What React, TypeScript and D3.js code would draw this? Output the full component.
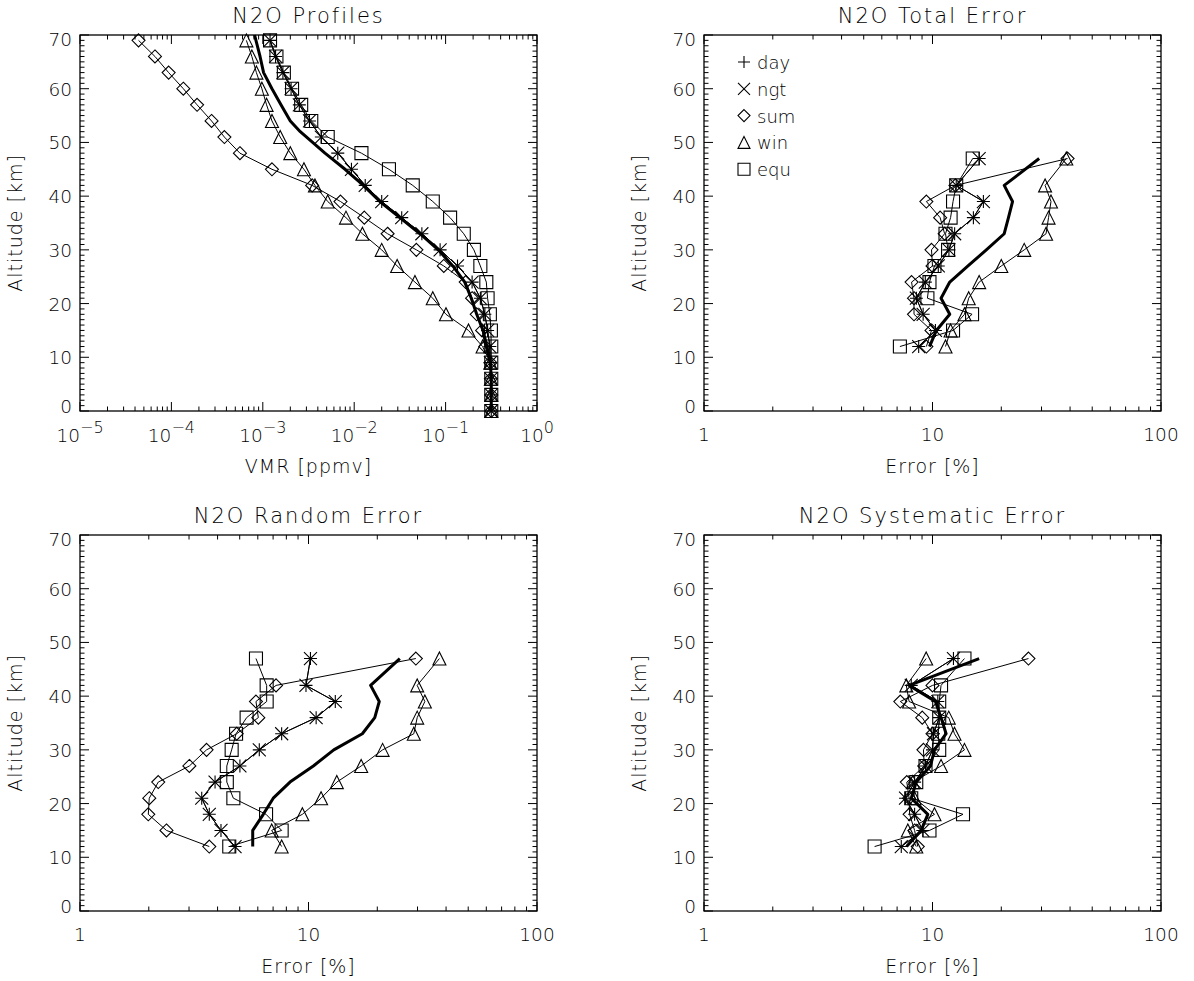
import React from 'react'
import * as d3 from 'd3'

// ---- N2O profiles (VMR in ppmv) on the retrieval levels
const profAlt = [69, 66, 63, 60, 57, 54, 51, 48, 45, 42, 39, 36, 33, 30, 27, 24, 21, 18, 15, 12, 9, 6, 3, 0]
const profDay = [1.2e-3, 1.38e-3, 1.66e-3, 2.04e-3, 2.51e-3, 3.24e-3, 4.37e-3, 6.61e-3, 9.33e-3, 1.32e-2, 2.0e-2, 3.31e-2, 5.5e-2, 8.71e-2, 0.135, 0.195, 0.24, 0.269, 0.288, 0.305, 0.309, 0.313, 0.316, 0.316]
const profNgt = [1.2e-3, 1.38e-3, 1.66e-3, 2.04e-3, 2.51e-3, 3.24e-3, 4.37e-3, 6.61e-3, 9.33e-3, 1.32e-2, 2.0e-2, 3.31e-2, 5.5e-2, 8.71e-2, 0.135, 0.195, 0.24, 0.269, 0.288, 0.305, 0.309, 0.313, 0.316, 0.316]
const profSum = [4.37e-5, 6.61e-5, 9.33e-5, 1.35e-4, 1.91e-4, 2.75e-4, 3.8e-4, 5.62e-4, 1.26e-3, 3.47e-3, 7.08e-3, 1.29e-2, 2.32e-2, 4.79e-2, 9.55e-2, 0.166, 0.195, 0.219, 0.251, 0.272, 0.309, 0.313, 0.316, 0.316]
const profWin = [6.61e-4, 7.59e-4, 8.51e-4, 9.77e-4, 1.1e-3, 1.26e-3, 1.55e-3, 2.0e-3, 2.82e-3, 3.72e-3, 5.13e-3, 8.13e-3, 1.23e-2, 2.0e-2, 2.95e-2, 4.62e-2, 7.24e-2, 0.101, 0.178, 0.254, 0.309, 0.313, 0.316, 0.316]
const profEqu = [1.2e-3, 1.41e-3, 1.7e-3, 2.09e-3, 2.63e-3, 3.39e-3, 5.13e-3, 1.2e-2, 2.4e-2, 4.37e-2, 7.24e-2, 0.112, 0.158, 0.204, 0.24, 0.279, 0.288, 0.305, 0.313, 0.316, 0.316, 0.316, 0.316, 0.316]
// thick reference profile
const meanAlt = [70, 66, 63, 60, 57, 54, 52, 48, 45, 42, 39, 36, 33, 30, 27, 24, 21, 18, 15, 12, 9, 6, 3, 0]
const profMean = [8.13e-4, 9.33e-4, 1.02e-3, 1.26e-3, 1.58e-3, 2.0e-3, 2.57e-3, 4.79e-3, 7.94e-3, 1.26e-2, 1.91e-2, 3.16e-2, 5.25e-2, 8.32e-2, 0.12, 0.162, 0.191, 0.219, 0.257, 0.282, 0.309, 0.316, 0.316, 0.316]

// ---- errors [%]
const errAlt = [12, 15, 18, 21, 24, 27, 30, 33, 36, 39, 42, 47]

const totDay = [8.7, 10.3, 9.1, 8.5, 9.3, 10.6, 11.8, 12.5, 15.1, 16.7, 12.7, 16.0]
const totNgt = [8.7, 10.3, 9.1, 8.5, 9.3, 10.6, 11.8, 12.5, 15.1, 16.7, 12.7, 16.0]
const totSum = [9.4, 9.9, 8.3, 8.3, 8.1, 10.0, 9.9, 11.3, 10.8, 9.4, 12.6, 39.0]
const totWin = [11.4, 12.0, 13.8, 14.4, 16.0, 20.0, 25.2, 31.4, 32.2, 33.0, 31.1, 38.5]
const totEqu = [7.2, 12.3, 14.9, 9.5, 9.7, 10.2, 11.7, 11.4, 12.0, 12.3, 12.7, 15.0]
const totMean = [9.7, 10.4, 11.9, 10.9, 11.9, 14.3, 17.2, 20.6, 21.5, 22.4, 20.6, 29.3]

const rndDay = [4.77, 4.14, 3.68, 3.41, 3.9, 5.01, 6.09, 7.63, 10.8, 13.1, 9.75, 10.2]
const rndNgt = [4.77, 4.14, 3.68, 3.41, 3.9, 5.01, 6.09, 7.63, 10.8, 13.1, 9.75, 10.2]
const rndSum = [3.68, 2.39, 1.99, 2.01, 2.2, 3.01, 3.58, 4.85, 6.03, 5.89, 7.21, 29.5]
const rndWin = [7.63, 6.9, 9.4, 11.35, 13.3, 17.0, 21.1, 28.9, 29.9, 32.3, 29.9, 37.4]
const rndEqu = [4.5, 7.63, 6.52, 4.69, 4.39, 4.39, 4.61, 4.82, 5.36, 6.56, 6.56, 5.89]
const rndMean = [5.7, 5.7, 6.34, 7.01, 8.3, 10.5, 12.9, 17.2, 19.5, 20.4, 18.7, 25.1]

const sysDay = [7.3, 9.07, 8.35, 7.62, 8.35, 9.32, 10.0, 10.1, 10.7, 10.55, 8.07, 12.35]
const sysNgt = [7.3, 9.07, 8.35, 7.62, 8.35, 9.32, 10.0, 10.1, 10.7, 10.55, 8.07, 12.35]
const sysSum = [8.62, 8.35, 7.94, 7.9, 7.72, 9.2, 9.13, 10.0, 9.02, 7.23, 10.0, 26.3]
const sysWin = [8.49, 7.8, 10.2, 8.35, 8.2, 10.9, 13.8, 12.48, 11.78, 7.9, 7.68, 9.38]
const sysEqu = [5.58, 9.7, 13.6, 8.07, 8.49, 9.32, 10.7, 10.6, 10.7, 10.7, 10.9, 13.8]
const sysMean = [7.7, 8.92, 9.54, 8.07, 8.49, 9.8, 10.2, 11.47, 10.9, 10.3, 7.9, 16.0]

const altTicks = [0, 10, 20, 30, 40, 50, 60, 70]
const vmrTicks = [1e-5, 1e-4, 1e-3, 1e-2, 1e-1, 1]
const vmrExp = ['−5', '−4', '−3', '−2', '−1', '0']
const errTicks = [1, 10, 100]
const legendNames = ['day', 'ngt', 'sum', 'win', 'equ']
const legendSyms = ['plus', 'cross', 'diamond', 'triangle', 'square']

const W = 457
const H = 376
const FONT = "'DejaVu Sans ExtraLight', 'DejaVu Sans', 'Liberation Sans', sans-serif"

const symPath = (sym, s = 6.5) => {
  switch (sym) {
    case 'plus': return `M${-s},0H${s}M0,${-s}V${s}`
    case 'cross': return `M${-s},${-s}L${s},${s}M${-s},${s}L${s},${-s}`
    case 'diamond': return `M0,${-s}L${s},0L0,${s}L${-s},0Z`
    case 'triangle': return `M${-s},${s}L${s},${s}L0,${-s}Z`
    default: return `M${-s},${-s}H${s}V${s}H${-s}Z`
  }
}

const Panel = ({ left, top, title, xTitle, xDomain, xTicks, expLabels, alt, series, mAlt, mean, legend }) => {
  const x = d3.scaleLog().domain(xDomain).range([0, W])
  const y = d3.scaleLinear().domain([0, 70]).range([H, 0])
  const line = d3.line().x((d) => x(d[0])).y((d) => y(d[1]))

  const e0 = Math.round(Math.log10(xDomain[0]))
  const e1 = Math.round(Math.log10(xDomain[1]))
  const minorX = d3.range(e0, e1).flatMap((e) => d3.range(2, 10).map((m) => m * Math.pow(10, e)))
  const minorY = d3.range(0, 71).filter((v) => v % 10 !== 0)

  return (
    <g transform={`translate(${left},${top})`} fontFamily={FONT} fontWeight={200} fill="#000">
      <text x={W / 2} y={-12} textAnchor="middle" fontSize={21} letterSpacing={2}>{title}</text>

      {/* data */}
      {series.map((s, i) => {
        const pts = alt.map((a, j) => [s.v[j], a])
        return (
          <g key={i}>
            <path d={line(pts)} fill="none" stroke="#000" strokeWidth={1} />
            {pts.map((p, j) => (
              <path key={j} d={symPath(s.sym)} transform={`translate(${x(p[0])},${y(p[1])})`}
                fill="none" stroke="#000" strokeWidth={1.1} />
            ))}
          </g>
        )
      })}
      <path d={line(mAlt.map((a, j) => [mean[j], a]))} fill="none" stroke="#000" strokeWidth={3} strokeLinejoin="round" />

      {/* box + ticks */}
      <rect x={0} y={0} width={W} height={H} fill="none" stroke="#000" strokeWidth={1.3} />
      <g stroke="#000" strokeWidth={1}>
        {xTicks.map((t) => (
          <g key={t}>
            <line x1={x(t)} x2={x(t)} y1={H} y2={H - 9} />
            <line x1={x(t)} x2={x(t)} y1={0} y2={9} />
          </g>
        ))}
        {minorX.map((t) => (
          <g key={t}>
            <line x1={x(t)} x2={x(t)} y1={H} y2={H - 4.5} />
            <line x1={x(t)} x2={x(t)} y1={0} y2={4.5} />
          </g>
        ))}
        {altTicks.map((t) => (
          <g key={t}>
            <line x1={0} x2={9} y1={y(t)} y2={y(t)} />
            <line x1={W} x2={W - 9} y1={y(t)} y2={y(t)} />
          </g>
        ))}
        {minorY.map((t) => (
          <g key={t}>
            <line x1={0} x2={4.5} y1={y(t)} y2={y(t)} />
            <line x1={W} x2={W - 4.5} y1={y(t)} y2={y(t)} />
          </g>
        ))}
      </g>

      {/* tick labels */}
      {altTicks.map((t) => (
        <text key={t} x={-8} y={y(t) + 7 + (t === 0 ? -5 : 0) + (t === 70 ? 4 : 0)} textAnchor="end" fontSize={18.5}>{t}</text>
      ))}
      {xTicks.map((t, i) => (expLabels ? (
        <text key={t} x={x(t)} y={H + 31} textAnchor="middle" fontSize={18.5}>
          10<tspan dy={-9} fontSize={16}>{expLabels[i]}</tspan>
        </text>
      ) : (
        <text key={t} x={x(t)} y={H + 30} textAnchor="middle" fontSize={18.5}>{t}</text>
      )))}

      <text x={W / 2} y={H + 62} textAnchor="middle" fontSize={19} letterSpacing={1}>{xTitle}</text>
      <text transform={`translate(${-58},${H / 2}) rotate(-90)`} textAnchor="middle" fontSize={19} letterSpacing={1}>Altitude [km]</text>

      {legend && legendNames.map((n, i) => (
        <g key={n} transform={`translate(40,${27 + i * 26.8})`}>
          <path d={symPath(legendSyms[i], 6)} fill="none" stroke="#000" strokeWidth={1.1} />
          <text x={13} y={7} fontSize={18}>{n}</text>
        </g>
      ))}
    </g>
  )
}

const mk = (day, ngt, sum, win, equ) => [
  { v: sum, sym: 'diamond' },
  { v: win, sym: 'triangle' },
  { v: equ, sym: 'square' },
  { v: day, sym: 'plus' },
  { v: ngt, sym: 'cross' },
]

export default function App() {
  return (
    <svg width={1194} height={981} style={{ position: 'absolute', left: 0, top: 0, background: '#fff' }}>
      <Panel left={80} top={35} title="N2O Profiles" xTitle="VMR [ppmv]" xDomain={[1e-5, 1]}
        xTicks={vmrTicks} expLabels={vmrExp} alt={profAlt}
        series={mk(profDay, profNgt, profSum, profWin, profEqu)} mAlt={meanAlt} mean={profMean} legend={false} />
      <Panel left={704} top={35} title="N2O Total Error" xTitle="Error [%]" xDomain={[1, 100]}
        xTicks={errTicks} expLabels={null} alt={errAlt}
        series={mk(totDay, totNgt, totSum, totWin, totEqu)} mAlt={errAlt} mean={totMean} legend />
      <Panel left={80} top={535} title="N2O Random Error" xTitle="Error [%]" xDomain={[1, 100]}
        xTicks={errTicks} expLabels={null} alt={errAlt}
        series={mk(rndDay, rndNgt, rndSum, rndWin, rndEqu)} mAlt={errAlt} mean={rndMean} legend={false} />
      <Panel left={704} top={535} title="N2O Systematic Error" xTitle="Error [%]" xDomain={[1, 100]}
        xTicks={errTicks} expLabels={null} alt={errAlt}
        series={mk(sysDay, sysNgt, sysSum, sysWin, sysEqu)} mAlt={errAlt} mean={sysMean} legend={false} />
    </svg>
  )
}
